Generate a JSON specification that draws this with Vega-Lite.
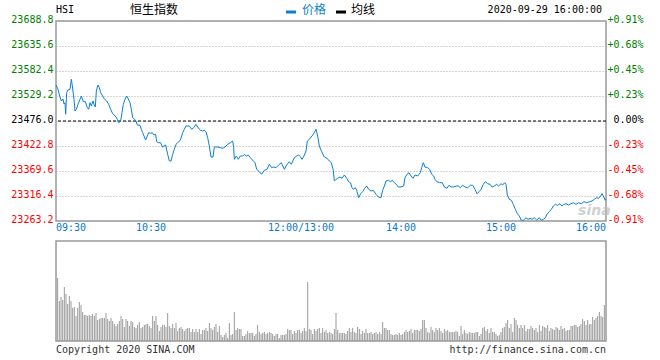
{
  "$schema": "https://vega.github.io/schema/vega-lite/v6.json",
  "background": "white",
  "padding": {"left": 10, "top": 3, "right": 5, "bottom": 5},
  "config": {"view": {"stroke": "#999", "strokeWidth": 1.5}, "font": "DejaVu Sans Mono"},
  "spacing": 20,
  "bounds": "flush",
  "resolve": {"scale": {"x": "independent"}, "axis": {"x": "independent"}},
  "datasets": {
    "price": [
      {"t":0,"p":23552.6},{"t":1.2,"p":23543.5},{"t":2.2,"p":23529.2},{"t":3.2,"p":23518.6},{"t":4.2,"p":23522.8},{"t":4.8,"p":23512.2},{"t":5.4,"p":23514.9},{"t":5.8,"p":23490.3},{"t":6.4,"p":23536.2},{"t":7.2,"p":23542.0},{"t":8.4,"p":23543.5},{"t":9.2,"p":23564.7},{"t":9.8,"p":23550.5},{"t":10.8,"p":23522.2},{"t":11.4,"p":23497.3},{"t":12.2,"p":23500.9},{"t":13.2,"p":23511.5},{"t":14.4,"p":23522.2},{"t":15.2,"p":23529.2},{"t":16.4,"p":23517.1},{"t":17.6,"p":23517.1},{"t":18.8,"p":23504.3},{"t":19.6,"p":23500.9},{"t":20.4,"p":23514.9},{"t":21.2,"p":23507.9},{"t":22.2,"p":23518.6},{"t":22.8,"p":23511.5},{"t":23.6,"p":23505.8},{"t":24.2,"p":23539.8},{"t":25.2,"p":23552.6},{"t":26.0,"p":23546.9},{"t":26.8,"p":23536.2},{"t":28.0,"p":23529.2},{"t":29.2,"p":23522.2},{"t":30.4,"p":23518.6},{"t":31.6,"p":23511.5},{"t":32.8,"p":23500.9},{"t":34.0,"p":23491.5},{"t":35.6,"p":23486.6},{"t":36.8,"p":23479.6},{"t":37.6,"p":23472.4},{"t":38.8,"p":23476.0},{"t":39.6,"p":23493.7},{"t":40.4,"p":23511.5},{"t":41.4,"p":23522.2},{"t":42.4,"p":23529.2},{"t":43.2,"p":23524.3},{"t":44.4,"p":23514.9},{"t":45.2,"p":23500.9},{"t":46.0,"p":23483.0},{"t":47.2,"p":23479.6},{"t":48.0,"p":23476.0},{"t":48.8,"p":23467.5},{"t":50.4,"p":23466.8},{"t":51.2,"p":23458.3},{"t":52.0,"p":23451.1},{"t":52.8,"p":23444.1},{"t":53.8,"p":23435.6},{"t":54.8,"p":23444.1},{"t":55.6,"p":23451.1},{"t":56.8,"p":23449.8},{"t":57.8,"p":23451.1},{"t":58.8,"p":23446.2},{"t":59.8,"p":23447.7},{"t":60.4,"p":23432.0},{"t":61.6,"p":23429.8},{"t":62.8,"p":23429.8},{"t":63.8,"p":23420.7},{"t":64.8,"p":23422.8},{"t":65.8,"p":23424.9},{"t":67.0,"p":23405.1},{"t":68.0,"p":23390.9},{"t":69.0,"p":23390.9},{"t":70.0,"p":23405.1},{"t":71.0,"p":23415.8},{"t":72.0,"p":23426.4},{"t":73.0,"p":23429.8},{"t":74.6,"p":23434.9},{"t":76.0,"p":23451.1},{"t":77.0,"p":23458.3},{"t":78.0,"p":23465.4},{"t":80.0,"p":23465.4},{"t":81.4,"p":23458.3},{"t":82.6,"p":23461.7},{"t":84.0,"p":23469.0},{"t":85.0,"p":23463.2},{"t":86.6,"p":23456.2},{"t":88.0,"p":23454.7},{"t":89.0,"p":23456.2},{"t":90.0,"p":23453.2},{"t":91.0,"p":23440.5},{"t":92.0,"p":23422.8},{"t":93.0,"p":23399.4},{"t":94.2,"p":23399.4},{"t":95.0,"p":23420.7},{"t":97.0,"p":23420.7},{"t":98.6,"p":23419.2},{"t":100.0,"p":23417.9},{"t":101.4,"p":23420.7},{"t":103.0,"p":23426.4},{"t":104.6,"p":23429.8},{"t":106.0,"p":23433.4},{"t":106.6,"p":23419.2},{"t":107.0,"p":23394.5},{"t":108.2,"p":23401.5},{"t":109.4,"p":23394.5},{"t":110.6,"p":23401.5},{"t":112.0,"p":23401.5},{"t":113.0,"p":23405.1},{"t":114.2,"p":23401.5},{"t":115.4,"p":23403.6},{"t":116.6,"p":23397.9},{"t":118.0,"p":23392.4},{"t":119.4,"p":23387.3},{"t":120.4,"p":23373.2},{"t":122.0,"p":23368.1},{"t":123.4,"p":23362.6},{"t":125.0,"p":23371.1},{"t":126.6,"p":23373.2},{"t":128.0,"p":23383.9},{"t":129.4,"p":23376.6},{"t":130.4,"p":23378.1},{"t":132.0,"p":23376.6},{"t":133.6,"p":23382.4},{"t":135.2,"p":23387.3},{"t":137.0,"p":23373.2},{"t":138.4,"p":23382.4},{"t":140.0,"p":23389.4},{"t":141.2,"p":23383.9},{"t":143.0,"p":23397.9},{"t":144.4,"p":23401.5},{"t":145.6,"p":23403.6},{"t":146.8,"p":23399.4},{"t":147.6,"p":23394.5},{"t":148.8,"p":23401.5},{"t":150.0,"p":23412.2},{"t":150.8,"p":23433.4},{"t":152.0,"p":23437.1},{"t":153.6,"p":23444.1},{"t":155.0,"p":23451.1},{"t":156.0,"p":23458.3},{"t":157.0,"p":23444.1},{"t":158.0,"p":23422.8},{"t":159.4,"p":23410.7},{"t":161.0,"p":23399.4},{"t":162.6,"p":23396.6},{"t":164.0,"p":23390.9},{"t":165.2,"p":23387.3},{"t":166.4,"p":23371.1},{"t":167.0,"p":23348.3},{"t":168.0,"p":23351.9},{"t":169.0,"p":23354.1},{"t":170.4,"p":23356.8},{"t":171.6,"p":23354.1},{"t":173.0,"p":23361.1},{"t":174.4,"p":23354.1},{"t":175.6,"p":23346.8},{"t":176.8,"p":23344.1},{"t":177.6,"p":23334.1},{"t":178.4,"p":23330.7},{"t":179.6,"p":23334.1},{"t":180.4,"p":23328.5},{"t":181.6,"p":23312.8},{"t":182.8,"p":23321.3},{"t":184.0,"p":23325.6},{"t":185.2,"p":23332.8},{"t":186.4,"p":23337.7},{"t":187.6,"p":23330.7},{"t":189.0,"p":23327.0},{"t":190.4,"p":23328.5},{"t":192.0,"p":23320.0},{"t":193.4,"p":23314.3},{"t":195.0,"p":23312.8},{"t":196.0,"p":23328.5},{"t":197.0,"p":23337.7},{"t":198.0,"p":23348.3},{"t":199.4,"p":23349.8},{"t":200.6,"p":23346.8},{"t":201.8,"p":23349.8},{"t":203.0,"p":23344.7},{"t":204.2,"p":23341.3},{"t":205.4,"p":23335.6},{"t":207.0,"p":23335.6},{"t":208.6,"p":23337.7},{"t":209.4,"p":23355.3},{"t":210.6,"p":23362.6},{"t":211.8,"p":23366.0},{"t":213.0,"p":23359.0},{"t":214.2,"p":23354.1},{"t":215.4,"p":23361.1},{"t":217.0,"p":23359.0},{"t":218.6,"p":23366.0},{"t":219.4,"p":23376.6},{"t":220.4,"p":23387.3},{"t":221.4,"p":23378.1},{"t":223.0,"p":23376.6},{"t":224.2,"p":23373.2},{"t":225.4,"p":23362.6},{"t":226.6,"p":23359.0},{"t":227.4,"p":23351.9},{"t":228.6,"p":23346.8},{"t":230.2,"p":23344.7},{"t":231.8,"p":23344.7},{"t":233.0,"p":23335.6},{"t":234.6,"p":23332.8},{"t":235.8,"p":23339.2},{"t":237.0,"p":23335.6},{"t":238.6,"p":23335.6},{"t":240.2,"p":23337.7},{"t":241.4,"p":23337.7},{"t":242.6,"p":23334.1},{"t":244.0,"p":23339.2},{"t":245.4,"p":23335.6},{"t":247.0,"p":23334.1},{"t":248.6,"p":23339.2},{"t":250.0,"p":23339.2},{"t":251.4,"p":23330.7},{"t":252.6,"p":23321.3},{"t":253.8,"p":23325.6},{"t":255.0,"p":23330.0},{"t":256.4,"p":23341.3},{"t":257.6,"p":23346.8},{"t":259.0,"p":23342.6},{"t":260.4,"p":23341.3},{"t":261.6,"p":23335.6},{"t":263.0,"p":23337.7},{"t":264.4,"p":23341.3},{"t":265.6,"p":23337.7},{"t":267.0,"p":23342.6},{"t":268.0,"p":23339.8},{"t":269.2,"p":23344.7},{"t":270.0,"p":23341.3},{"t":270.8,"p":23318.5},{"t":272.0,"p":23309.4},{"t":273.2,"p":23307.2},{"t":274.4,"p":23298.7},{"t":275.6,"p":23288.1},{"t":276.8,"p":23278.7},{"t":278.0,"p":23273.8},{"t":279.2,"p":23264.7},{"t":280.4,"p":23264.7},{"t":282.0,"p":23270.2},{"t":283.2,"p":23266.8},{"t":284.4,"p":23268.9},{"t":285.6,"p":23266.8},{"t":287.0,"p":23270.2},{"t":288.4,"p":23265.3},{"t":290.0,"p":23270.2},{"t":291.2,"p":23264.7},{"t":292.4,"p":23266.8},{"t":293.6,"p":23270.2},{"t":294.8,"p":23278.7},{"t":296.0,"p":23283.0},{"t":297.2,"p":23288.1},{"t":298.4,"p":23295.1},{"t":299.6,"p":23298.7},{"t":301.0,"p":23296.6},{"t":302.4,"p":23300.0},{"t":303.6,"p":23295.1},{"t":304.8,"p":23298.7},{"t":306.0,"p":23300.0},{"t":307.6,"p":23297.2},{"t":309.0,"p":23300.0},{"t":310.4,"p":23302.1},{"t":312.0,"p":23298.7},{"t":313.6,"p":23302.1},{"t":315.2,"p":23300.0},{"t":316.8,"p":23304.3},{"t":318.4,"p":23302.1},{"t":320.0,"p":23304.3},{"t":321.6,"p":23305.8},{"t":323.0,"p":23309.4},{"t":324.4,"p":23312.8},{"t":325.6,"p":23311.5},{"t":326.8,"p":23316.4},{"t":327.6,"p":23321.3},{"t":328.4,"p":23316.4},{"t":329.6,"p":23307.2},{"t":330.0,"p":23310.0}
    ],
    "vol": [
      {"t":1,"v":63},{"t":2,"v":40},{"t":3,"v":44},{"t":4,"v":41},{"t":5,"v":54},{"t":6,"v":47},{"t":7,"v":37},{"t":8,"v":45},{"t":9,"v":40},{"t":10,"v":33},{"t":11,"v":34},{"t":12,"v":25},{"t":13,"v":33},{"t":14,"v":39},{"t":15,"v":36},{"t":16,"v":29},{"t":17,"v":26},{"t":18,"v":26},{"t":19,"v":25},{"t":20,"v":26},{"t":21,"v":25},{"t":22,"v":27},{"t":23,"v":25},{"t":24,"v":28},{"t":25,"v":21},{"t":26,"v":22},{"t":27,"v":23},{"t":28,"v":23},{"t":29,"v":23},{"t":30,"v":28},
      {"t":31,"v":22},{"t":32,"v":20},{"t":33,"v":23},{"t":34,"v":20},{"t":35,"v":17},{"t":36,"v":15},{"t":37,"v":17},{"t":38,"v":20},{"t":39,"v":25},{"t":40,"v":22},{"t":41,"v":14},{"t":42,"v":22},{"t":43,"v":20},{"t":44,"v":15},{"t":45,"v":20},{"t":46,"v":19},{"t":47,"v":14},{"t":48,"v":13},{"t":49,"v":16},{"t":50,"v":19},{"t":51,"v":13},{"t":52,"v":14},{"t":53,"v":16},{"t":54,"v":17},{"t":55,"v":17},{"t":56,"v":15},{"t":57,"v":13},{"t":58,"v":25},{"t":59,"v":20},{"t":60,"v":25},
      {"t":61,"v":16},{"t":62,"v":10},{"t":63,"v":14},{"t":64,"v":16},{"t":65,"v":16},{"t":66,"v":14},{"t":67,"v":28},{"t":68,"v":15},{"t":69,"v":13},{"t":70,"v":17},{"t":71,"v":13},{"t":72,"v":18},{"t":73,"v":10},{"t":74,"v":13},{"t":75,"v":14},{"t":76,"v":12},{"t":77,"v":10},{"t":78,"v":12},{"t":79,"v":13},{"t":80,"v":13},{"t":81,"v":9},{"t":82,"v":12},{"t":83,"v":9},{"t":84,"v":12},{"t":85,"v":9},{"t":86,"v":12},{"t":87,"v":7},{"t":88,"v":11},{"t":89,"v":11},{"t":90,"v":13},
      {"t":91,"v":10},{"t":92,"v":18},{"t":93,"v":13},{"t":94,"v":11},{"t":95,"v":14},{"t":96,"v":17},{"t":97,"v":9},{"t":98,"v":15},{"t":99,"v":6},{"t":100,"v":4},{"t":101,"v":6},{"t":102,"v":8},{"t":103,"v":3},{"t":104,"v":18},{"t":105,"v":6},{"t":106,"v":7},{"t":107,"v":29},{"t":108,"v":11},{"t":109,"v":13},{"t":110,"v":12},{"t":111,"v":12},{"t":112,"v":5},{"t":113,"v":5},{"t":114,"v":7},{"t":115,"v":10},{"t":116,"v":8},{"t":117,"v":8},{"t":118,"v":8},{"t":119,"v":5},{"t":120,"v":7},{"t":121,"v":16},
      {"t":122,"v":9},{"t":123,"v":7},{"t":124,"v":8},{"t":125,"v":9},{"t":126,"v":7},{"t":127,"v":8},{"t":128,"v":9},{"t":129,"v":8},{"t":130,"v":7},{"t":131,"v":5},{"t":132,"v":7},{"t":133,"v":7},{"t":134,"v":3},{"t":135,"v":6},{"t":136,"v":6},{"t":137,"v":6},{"t":138,"v":7},{"t":139,"v":12},{"t":140,"v":11},{"t":141,"v":11},{"t":142,"v":7},{"t":143,"v":10},{"t":144,"v":8},{"t":145,"v":11},{"t":146,"v":11},{"t":147,"v":8},{"t":148,"v":10},{"t":149,"v":13},{"t":150,"v":10},{"t":151,"v":59},
      {"t":152,"v":12},{"t":153,"v":11},{"t":154,"v":7},{"t":155,"v":12},{"t":156,"v":10},{"t":157,"v":12},{"t":158,"v":13},{"t":159,"v":8},{"t":160,"v":13},{"t":161,"v":9},{"t":162,"v":11},{"t":163,"v":8},{"t":164,"v":9},{"t":165,"v":8},{"t":166,"v":7},{"t":167,"v":12},{"t":168,"v":28},{"t":169,"v":11},{"t":170,"v":8},{"t":171,"v":8},{"t":172,"v":8},{"t":173,"v":8},{"t":174,"v":7},{"t":175,"v":10},{"t":176,"v":13},{"t":177,"v":9},{"t":178,"v":13},{"t":179,"v":9},{"t":180,"v":8},{"t":181,"v":14},
      {"t":182,"v":12},{"t":183,"v":7},{"t":184,"v":10},{"t":185,"v":8},{"t":186,"v":12},{"t":187,"v":8},{"t":188,"v":8},{"t":189,"v":9},{"t":190,"v":7},{"t":191,"v":8},{"t":192,"v":9},{"t":193,"v":7},{"t":194,"v":9},{"t":195,"v":7},{"t":196,"v":19},{"t":197,"v":13},{"t":198,"v":13},{"t":199,"v":11},{"t":200,"v":11},{"t":201,"v":7},{"t":202,"v":6},{"t":203,"v":6},{"t":204,"v":7},{"t":205,"v":6},{"t":206,"v":8},{"t":207,"v":6},{"t":208,"v":7},{"t":209,"v":9},{"t":210,"v":11},{"t":211,"v":9},
      {"t":212,"v":10},{"t":213,"v":12},{"t":214,"v":8},{"t":215,"v":11},{"t":216,"v":11},{"t":217,"v":11},{"t":218,"v":10},{"t":219,"v":12},{"t":220,"v":21},{"t":221,"v":21},{"t":222,"v":13},{"t":223,"v":9},{"t":224,"v":8},{"t":225,"v":14},{"t":226,"v":11},{"t":227,"v":9},{"t":228,"v":13},{"t":229,"v":11},{"t":230,"v":13},{"t":231,"v":10},{"t":232,"v":8},{"t":233,"v":12},{"t":234,"v":10},{"t":235,"v":11},{"t":236,"v":9},{"t":237,"v":9},{"t":238,"v":9},{"t":239,"v":9},{"t":240,"v":10},{"t":241,"v":9},
      {"t":242,"v":5},{"t":243,"v":15},{"t":244,"v":7},{"t":245,"v":11},{"t":246,"v":8},{"t":247,"v":7},{"t":248,"v":9},{"t":249,"v":8},{"t":250,"v":8},{"t":251,"v":8},{"t":252,"v":9},{"t":253,"v":9},{"t":254,"v":5},{"t":255,"v":7},{"t":256,"v":13},{"t":257,"v":14},{"t":258,"v":10},{"t":259,"v":12},{"t":260,"v":8},{"t":261,"v":13},{"t":262,"v":9},{"t":263,"v":9},{"t":264,"v":7},{"t":265,"v":5},{"t":266,"v":6},{"t":267,"v":9},{"t":268,"v":13},{"t":269,"v":14},{"t":270,"v":18},
      {"t":271,"v":21},{"t":272,"v":13},{"t":273,"v":17},{"t":274,"v":9},{"t":275,"v":23},{"t":276,"v":21},{"t":277,"v":16},{"t":278,"v":13},{"t":279,"v":16},{"t":280,"v":13},{"t":281,"v":16},{"t":282,"v":10},{"t":283,"v":12},{"t":284,"v":12},{"t":285,"v":15},{"t":286,"v":13},{"t":287,"v":11},{"t":288,"v":13},{"t":289,"v":9},{"t":290,"v":16},{"t":291,"v":10},{"t":292,"v":15},{"t":293,"v":14},{"t":294,"v":13},{"t":295,"v":16},{"t":296,"v":10},{"t":297,"v":13},{"t":298,"v":12},{"t":299,"v":11},{"t":300,"v":14},
      {"t":301,"v":13},{"t":302,"v":11},{"t":303,"v":15},{"t":304,"v":12},{"t":305,"v":13},{"t":306,"v":10},{"t":307,"v":11},{"t":308,"v":11},{"t":309,"v":15},{"t":310,"v":15},{"t":311,"v":16},{"t":312,"v":16},{"t":313,"v":14},{"t":314,"v":15},{"t":315,"v":17},{"t":316,"v":22},{"t":317,"v":20},{"t":318,"v":16},{"t":319,"v":21},{"t":320,"v":17},{"t":321,"v":17},{"t":322,"v":24},{"t":323,"v":21},{"t":324,"v":23},{"t":325,"v":25},{"t":326,"v":29},{"t":327,"v":25},{"t":328,"v":24},{"t":329,"v":36}
    ]
  },
  "vconcat": [
    {
      "width": 550,
      "height": 200,
      "layer": [
        {
          "data": {"values": [{}]},
          "mark": {"type": "rule", "color": "#000000", "strokeDash": [3, 2], "strokeWidth": 1},
          "encoding": {
            "y": {
              "datum": 23476, "type": "quantitative",
              "scale": {"domain": [23263.2, 23688.8], "nice": false, "zero": false},
              "axis": {
                "orient": "right",
                "values": [23263.2, 23316.4, 23369.6, 23422.8, 23476, 23529.2, 23582.4, 23635.6, 23688.8],
                "labelExpr": "(datum.value > 23476.1 ? '+' : datum.value < 23475.9 ? '-' : '') + format(abs(datum.value - 23476) / 23476 * 100, '.2f') + '%'",
                "labelFont": "DejaVu Sans Mono", "labelFontSize": 10,
                "labelAlign": "right", "labelPadding": 37,
                "labelBaseline": "alphabetic", "labelOffset": 1,
                "labelOverlap": false, "labelFlush": false,
                "labelColor": {"condition": [{"test": "datum.value > 23476.1", "value": "#008000"}, {"test": "datum.value < 23475.9", "value": "#ff0000"}], "value": "#000000"},
                "ticks": false, "domain": false, "grid": false, "title": null
              }
            }
          }
        },
        {
          "data": {"name": "price"},
          "mark": {"type": "line", "color": "#0b7fd4", "strokeWidth": 1},
          "encoding": {
            "x": {
              "field": "t", "type": "quantitative",
              "scale": {"domain": [0, 330], "nice": false, "zero": false},
              "axis": {
                "values": [0, 30, 60, 90, 120, 150, 180, 210, 240, 270, 300, 330],
                "labels": false, "ticks": false, "domain": false, "title": null,
                "grid": true, "gridColor": "#aaaaaa", "gridDash": [1, 2], "gridWidth": 1
              }
            },
            "y": {
              "field": "p", "type": "quantitative",
              "scale": {"domain": [23263.2, 23688.8], "nice": false, "zero": false},
              "axis": {
                "orient": "left",
                "values": [23263.2, 23316.4, 23369.6, 23422.8, 23476, 23529.2, 23582.4, 23635.6, 23688.8],
                "format": ".1f",
                "labelFont": "DejaVu Sans Mono", "labelFontSize": 10, "labelPadding": 3,
                "labelBaseline": "alphabetic", "labelOffset": 1,
                "labelOverlap": false, "labelFlush": false,
                "labelColor": {"condition": [{"test": "datum.value > 23476.1", "value": "#008000"}, {"test": "datum.value < 23475.9", "value": "#ff0000"}], "value": "#000000"},
                "ticks": false, "domain": false, "title": null,
                "grid": true, "gridColor": "#aaaaaa", "gridDash": [1, 2], "gridWidth": 1
              }
            }
          }
        },
        {
          "data": {"values": [{"t": 0, "p": 23248.3, "s": "09:30"}]},
          "mark": {"type": "text", "font": "DejaVu Sans Mono", "fontSize": 10, "color": "#0a78c8", "align": "left", "baseline": "middle"},
          "encoding": {
            "x": {"field": "t", "type": "quantitative", "axis": null},
            "y": {"field": "p", "type": "quantitative", "axis": null},
            "text": {"field": "s"}
          }
        },
        {
          "data": {"values": [{"t": 60, "p": 23248.3, "s": "10:30"}, {"t": 150, "p": 23248.3, "s": "12:00/13:00"}, {"t": 210, "p": 23248.3, "s": "14:00"}, {"t": 270, "p": 23248.3, "s": "15:00"}]},
          "mark": {"type": "text", "font": "DejaVu Sans Mono", "fontSize": 10, "color": "#0a78c8", "align": "center", "baseline": "middle", "dx": -5},
          "encoding": {
            "x": {"field": "t", "type": "quantitative", "axis": null},
            "y": {"field": "p", "type": "quantitative", "axis": null},
            "text": {"field": "s"}
          }
        },
        {
          "data": {"values": [{"t": 330, "p": 23248.3, "s": "16:00"}]},
          "mark": {"type": "text", "font": "DejaVu Sans Mono", "fontSize": 10, "color": "#0a78c8", "align": "right", "baseline": "middle"},
          "encoding": {
            "x": {"field": "t", "type": "quantitative", "axis": null},
            "y": {"field": "p", "type": "quantitative", "axis": null},
            "text": {"field": "s"}
          }
        },
        {
          "data": {"values": [{"t": 323, "p": 23285, "s": "sina"}]},
          "mark": {"type": "text", "font": "DejaVu Sans", "fontSize": 14, "fontStyle": "italic", "fontWeight": "bold", "color": "#bdbdbd", "opacity": 0.7, "align": "center", "baseline": "middle"},
          "encoding": {
            "x": {"field": "t", "type": "quantitative", "axis": null},
            "y": {"field": "p", "type": "quantitative", "axis": null},
            "text": {"field": "s"}
          }
        },
        {
          "data": {"values": [{"t0": 138, "t1": 144, "p": 23707.9, "c": "price"}, {"t0": 168, "t1": 174, "p": 23707.9, "c": "avg"}]},
          "mark": {"type": "rule", "strokeWidth": 3},
          "encoding": {
            "x": {"field": "t0", "type": "quantitative", "axis": null},
            "x2": {"field": "t1"},
            "y": {"field": "p", "type": "quantitative", "axis": null},
            "color": {"field": "c", "type": "nominal", "scale": {"domain": ["price", "avg"], "range": ["#0b7fd4", "#000000"]}, "legend": null}
          }
        },
        {
          "data": {"values": [{"t": 0, "p": 23712.2, "s": "HSI"}]},
          "mark": {"type": "text", "font": "DejaVu Sans Mono", "fontSize": 10, "color": "#000000", "align": "left", "baseline": "middle"},
          "encoding": {
            "x": {"field": "t", "type": "quantitative", "axis": null},
            "y": {"field": "p", "type": "quantitative", "axis": null},
            "text": {"field": "s"}
          }
        },
        {
          "data": {"values": [{"t": 58.8, "p": 23712.2, "s": "恒生指数"}]},
          "mark": {"type": "text", "font": "Noto Sans CJK SC", "fontSize": 12, "color": "#000000", "align": "center", "baseline": "middle"},
          "encoding": {
            "x": {"field": "t", "type": "quantitative", "axis": null},
            "y": {"field": "p", "type": "quantitative", "axis": null},
            "text": {"field": "s"}
          }
        },
        {
          "data": {"values": [{"t": 147.6, "p": 23712.2, "s": "价格", "c": "price"}, {"t": 177, "p": 23712.2, "s": "均线", "c": "avg"}]},
          "mark": {"type": "text", "font": "Noto Sans CJK SC", "fontSize": 12, "align": "left", "baseline": "middle"},
          "encoding": {
            "x": {"field": "t", "type": "quantitative", "axis": null},
            "y": {"field": "p", "type": "quantitative", "axis": null},
            "text": {"field": "s"},
            "color": {"field": "c", "type": "nominal", "scale": {"domain": ["price", "avg"], "range": ["#0b7fd4", "#000000"]}, "legend": null}
          }
        },
        {
          "data": {"values": [{"t": 327.6, "p": 23712.2, "s": "2020-09-29 16:00:00"}]},
          "mark": {"type": "text", "font": "DejaVu Sans Mono", "fontSize": 10, "color": "#000000", "align": "right", "baseline": "middle"},
          "encoding": {
            "x": {"field": "t", "type": "quantitative", "axis": null},
            "y": {"field": "p", "type": "quantitative", "axis": null},
            "text": {"field": "s"}
          }
        }
      ],
      "resolve": {"axis": {"y": "independent"}}
    },
    {
      "width": 550,
      "height": 100,
      "layer": [
        {
          "data": {"name": "vol"},
          "mark": {"type": "rule", "color": "#999999", "strokeWidth": 1},
          "encoding": {
            "x": {
              "field": "t", "type": "quantitative",
              "scale": {"domain": [0, 330], "nice": false, "zero": false},
              "axis": {
                "values": [0, 30, 60, 90, 120, 150, 180, 210, 240, 270, 300, 330],
                "labels": false, "ticks": false, "domain": false, "title": null,
                "grid": true, "gridColor": "#aaaaaa", "gridDash": [1, 2], "gridWidth": 1
              }
            },
            "y": {
              "field": "v", "type": "quantitative",
              "scale": {"domain": [0, 100], "nice": false},
              "axis": {
                "values": [25, 50, 75],
                "labels": false, "ticks": false, "domain": false, "title": null,
                "grid": true, "gridColor": "#aaaaaa", "gridDash": [1, 2], "gridWidth": 1
              }
            },
            "y2": {"datum": 0}
          }
        },
        {
          "data": {"values": [{"t": 0, "v": -9, "s": "Copyright 2020 SINA.COM"}]},
          "mark": {"type": "text", "font": "DejaVu Sans Mono", "fontSize": 10, "color": "#333333", "align": "left", "baseline": "middle"},
          "encoding": {
            "x": {"field": "t", "type": "quantitative", "axis": null},
            "y": {"field": "v", "type": "quantitative", "axis": null},
            "text": {"field": "s"}
          }
        },
        {
          "data": {"values": [{"t": 330, "v": -9, "s": "http://finance.sina.com.cn"}]},
          "mark": {"type": "text", "font": "DejaVu Sans Mono", "fontSize": 10, "color": "#333333", "align": "right", "baseline": "middle"},
          "encoding": {
            "x": {"field": "t", "type": "quantitative", "axis": null},
            "y": {"field": "v", "type": "quantitative", "axis": null},
            "text": {"field": "s"}
          }
        }
      ]
    }
  ]
}
